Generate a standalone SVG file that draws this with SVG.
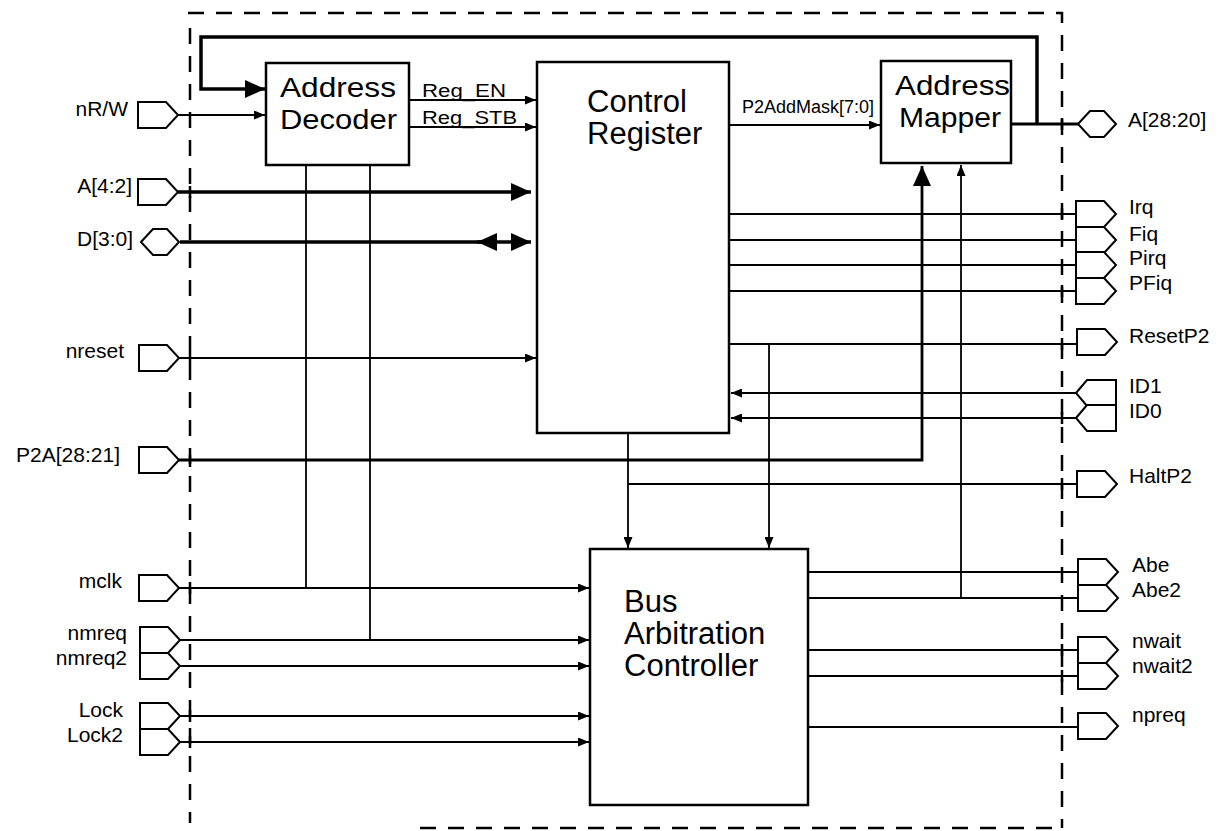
<svg xmlns="http://www.w3.org/2000/svg" xmlns:xlink="http://www.w3.org/1999/xlink" width="1224" height="831" viewBox="0 0 1224 831">
<style>
  .box { fill: #fff; stroke: #000; stroke-width: 2.5; }
  .pin { fill: #fff; stroke: #000; stroke-width: 2; stroke-linejoin: miter; }
  .w { fill: none; stroke: #000; stroke-width: 1.8; }
  .wt { fill: none; stroke: #000; stroke-width: 3.5; }
  .wm { fill: none; stroke: #000; stroke-width: 2.8; }
  .dash { fill: none; stroke: #000; stroke-width: 2.5; stroke-dasharray: 16 12; }
  .tick { stroke: #000; stroke-width: 2.5; }
  .big { font-family: "Liberation Sans", Arial, sans-serif; font-size: 31px; fill: #000; }
  .mid { font-family: "Liberation Sans", Arial, sans-serif; font-size: 28.5px; fill: #000; }
  .lbl { font-family: "Liberation Sans", Arial, sans-serif; font-size: 21px; fill: #000; }
  .lblL { font-family: "Liberation Sans", Arial, sans-serif; font-size: 21px; fill: #000; text-anchor: end; }
  .sig { font-family: "Liberation Sans", Arial, sans-serif; font-size: 18px; fill: #000; }
</style>
<defs>
  <marker id="sa" markerUnits="userSpaceOnUse" markerWidth="11" markerHeight="9" refX="11" refY="4.5" orient="auto">
    <path d="M0,0 L11,4.5 L0,9 Z" fill="#000"/>
  </marker>
  <marker id="ba" markerUnits="userSpaceOnUse" markerWidth="20" markerHeight="18" refX="20" refY="9" orient="auto">
    <path d="M0,0 L20,9 L0,18 Z" fill="#000"/>
  </marker>
  <path id="pinR" class="pin" d="M0,-13 H28 L40,0 L28,13 H0 Z"/>
  <path id="pinL" class="pin" d="M0,0 L11,-13 H40 V13 H11 Z"/>
  <path id="pinH" class="pin" d="M0,0 L12,-13 H26 L38,0 L26,13 H12 Z"/>
</defs>

<rect width="1224" height="831" fill="#fff"/>

<!-- boundary -->
<g id="boundary">
  <path class="dash" d="M188,13 H1062 V828"/>
  <path class="dash" d="M190,28 V823"/>
  <path class="dash" d="M420,828 H1062"/>
</g>

<!-- connectors -->
<g id="connectors">
  <path class="w" d="M178,115 H265" marker-end="url(#sa)"/>
  <path class="wt" d="M178,192 H531" marker-end="url(#ba)"/>
  <path class="wt" d="M180,242 H531" marker-end="url(#ba)"/>
  <path class="wt" d="M497,242 H477" marker-end="url(#ba)"/>
  <path class="w" d="M179,358 H536" marker-end="url(#sa)"/>
  <path class="wm" d="M179,460 H922 V166" marker-end="url(#ba)"/>
  <path class="w" d="M306,165 V588"/>
  <path class="w" d="M370,165 V640"/>
  <path class="w" d="M179,588 H589" marker-end="url(#sa)"/>
  <path class="w" d="M180,640 H589" marker-end="url(#sa)"/>
  <path class="w" d="M180,666 H589" marker-end="url(#sa)"/>
  <path class="w" d="M180,716 H589" marker-end="url(#sa)"/>
  <path class="w" d="M180,742 H589" marker-end="url(#sa)"/>
  <path class="w" d="M409,100 H536" marker-end="url(#sa)"/>
  <path class="w" d="M409,127 H536" marker-end="url(#sa)"/>
  <path class="wm" d="M1011,124 H1078"/>
  <path class="wt" d="M1037,124 V37 H201 V89 H265" marker-end="url(#ba)"/>
  <path class="w" d="M730,125 H880" marker-end="url(#sa)"/>
  <path class="w" d="M730,214 H1077"/>
  <path class="w" d="M730,240 H1077"/>
  <path class="w" d="M730,265 H1077"/>
  <path class="w" d="M730,291 H1077"/>
  <path class="w" d="M730,344 H1077"/>
  <path class="w" d="M1076,393 H731" marker-end="url(#sa)"/>
  <path class="w" d="M1076,418 H731" marker-end="url(#sa)"/>
  <path class="w" d="M628,434 V548" marker-end="url(#sa)"/>
  <path class="w" d="M628,484 H1077"/>
  <path class="w" d="M769,344 V548" marker-end="url(#sa)"/>
  <path class="w" d="M809,572 H1078"/>
  <path class="w" d="M809,598 H1078"/>
  <path class="w" d="M961,598 V165" marker-end="url(#sa)"/>
  <path class="w" d="M809,650 H1077"/>
  <path class="w" d="M809,676 H1077"/>
  <path class="w" d="M809,727 H1077"/>
  <!-- border crossing ticks -->
  <path class="tick" d="M190,186 v12 M190,352 v12 M190,455 v12 M190,582 v12 M190,710 v12 M190,736 v12
                        M1062,118 v12 M1062,208 v12 M1062,285 v12 M1062,338 v12 M1062,412 v12 M1062,478 v12 M1062,644 v12 M1062,670 v12"/>
</g>

<!-- blocks -->
<g id="address-decoder">
  <rect class="box" x="266" y="63" width="143" height="102"/>
  <text class="mid" x="280" y="97" textLength="116" lengthAdjust="spacingAndGlyphs">Address</text>
  <text class="mid" x="280" y="129" textLength="117" lengthAdjust="spacingAndGlyphs">Decoder</text>
</g>
<g id="control-register">
  <rect class="box" x="537" y="62" width="192" height="371"/>
  <text class="big" x="587" y="112">Control</text>
  <text class="big" x="587" y="144">Register</text>
</g>
<g id="address-mapper">
  <rect class="box" x="881" y="61" width="130" height="102"/>
  <text class="mid" x="895" y="95" textLength="115" lengthAdjust="spacingAndGlyphs">Address</text>
  <text class="mid" x="899" y="127" textLength="102" lengthAdjust="spacingAndGlyphs">Mapper</text>
</g>
<g id="bus-arbitration-controller">
  <rect class="box" x="590" y="549" width="218" height="256"/>
  <text class="big" x="624" y="612">Bus</text>
  <text class="big" x="624" y="644">Arbitration</text>
  <text class="big" x="624" y="676">Controller</text>
</g>

<!-- signal labels -->
<g id="signal-labels">
  <text class="sig" x="422" y="97" textLength="84" lengthAdjust="spacingAndGlyphs">Reg_EN</text>
  <text class="sig" x="422" y="124" textLength="95" lengthAdjust="spacingAndGlyphs">Reg_STB</text>
  <text class="sig" x="742" y="113">P2AddMask[7:0]</text>
</g>

<!-- left pins -->
<g id="pin-nRW"><use xlink:href="#pinR" x="138" y="115"/><text class="lblL" x="128" y="116">nR/W</text></g>
<g id="pin-A4-2"><use xlink:href="#pinR" x="138" y="192"/><text class="lblL" x="132" y="193">A[4:2]</text></g>
<g id="pin-D3-0"><use xlink:href="#pinH" x="141" y="242"/><text class="lblL" x="133" y="246">D[3:0]</text></g>
<g id="pin-nreset"><use xlink:href="#pinR" x="139" y="358"/><text class="lblL" x="124" y="358">nreset</text></g>
<g id="pin-P2A"><use xlink:href="#pinR" x="139" y="460"/><text class="lblL" x="120" y="462">P2A[28:21]</text></g>
<g id="pin-mclk"><use xlink:href="#pinR" x="139" y="588"/><text class="lblL" x="122" y="588">mclk</text></g>
<g id="pin-nmreq"><use xlink:href="#pinR" x="140" y="640"/><text class="lblL" x="127" y="640">nmreq</text></g>
<g id="pin-nmreq2"><use xlink:href="#pinR" x="140" y="666"/><text class="lblL" x="127" y="665">nmreq2</text></g>
<g id="pin-Lock"><use xlink:href="#pinR" x="140" y="716"/><text class="lblL" x="123" y="717">Lock</text></g>
<g id="pin-Lock2"><use xlink:href="#pinR" x="140" y="742"/><text class="lblL" x="123" y="742">Lock2</text></g>

<!-- right pins -->
<g id="pin-A28-20"><use xlink:href="#pinH" x="1078" y="124"/><text class="lbl" x="1128" y="127">A[28:20]</text></g>
<g id="pin-Irq"><use xlink:href="#pinR" x="1076" y="214"/><text class="lbl" x="1129" y="214">Irq</text></g>
<g id="pin-Fiq"><use xlink:href="#pinR" x="1076" y="240"/><text class="lbl" x="1129" y="241">Fiq</text></g>
<g id="pin-Pirq"><use xlink:href="#pinR" x="1076" y="265"/><text class="lbl" x="1129" y="265">Pirq</text></g>
<g id="pin-PFiq"><use xlink:href="#pinR" x="1076" y="291"/><text class="lbl" x="1129" y="290">PFiq</text></g>
<g id="pin-ResetP2"><use xlink:href="#pinR" x="1077" y="342"/><text class="lbl" x="1129" y="343">ResetP2</text></g>
<g id="pin-ID1"><use xlink:href="#pinL" x="1076" y="393"/><text class="lbl" x="1129" y="393">ID1</text></g>
<g id="pin-ID0"><use xlink:href="#pinL" x="1076" y="418"/><text class="lbl" x="1129" y="418">ID0</text></g>
<g id="pin-HaltP2"><use xlink:href="#pinR" x="1077" y="484"/><text class="lbl" x="1129" y="483">HaltP2</text></g>
<g id="pin-Abe"><use xlink:href="#pinR" x="1078" y="572"/><text class="lbl" x="1132" y="572">Abe</text></g>
<g id="pin-Abe2"><use xlink:href="#pinR" x="1078" y="598"/><text class="lbl" x="1132" y="597">Abe2</text></g>
<g id="pin-nwait"><use xlink:href="#pinR" x="1078" y="650"/><text class="lbl" x="1132" y="648">nwait</text></g>
<g id="pin-nwait2"><use xlink:href="#pinR" x="1078" y="676"/><text class="lbl" x="1132" y="673">nwait2</text></g>
<g id="pin-npreq"><use xlink:href="#pinR" x="1078" y="726"/><text class="lbl" x="1132" y="722">npreq</text></g>
</svg>
